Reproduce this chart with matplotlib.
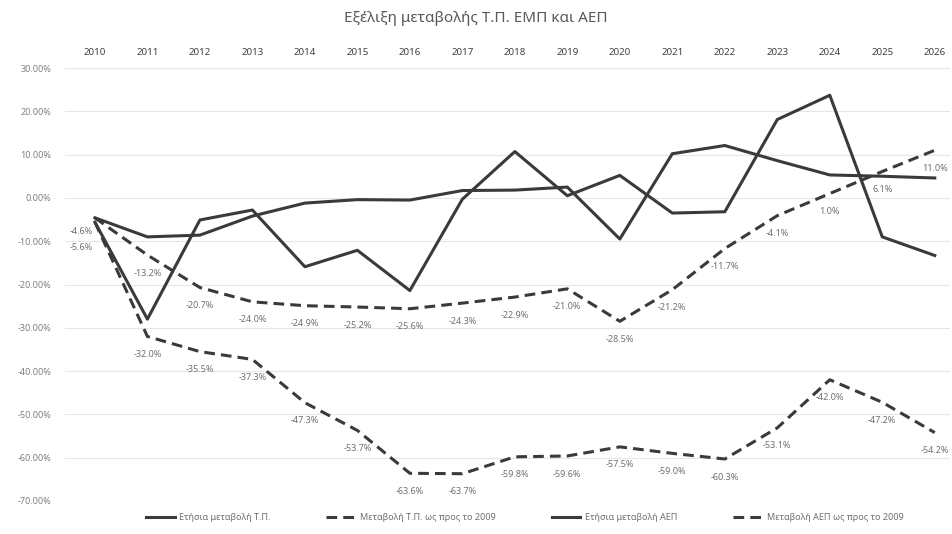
import matplotlib
matplotlib.use("Agg")
import matplotlib.pyplot as plt
from matplotlib.ticker import FuncFormatter

plt.rcParams['font.family'] = ['Noto Sans', 'DejaVu Sans']

years = list(range(2010, 2027))
tp_annual = [-5.6, -28.0, -5.1, -2.8, -15.9, -12.1, -21.4, -0.3, 10.7, 0.5, 5.2, -3.5, -3.2, 18.1, 23.7, -9.0, -13.3]
tp_cum = [-5.6, -32.0, -35.5, -37.3, -47.3, -53.7, -63.6, -63.7, -59.8, -59.6, -57.5, -59.0, -60.3, -53.1, -42.0, -47.2, -54.2]
gdp_annual = [-4.6, -9.0, -8.6, -4.2, -1.2, -0.4, -0.5, 1.7, 1.8, 2.5, -9.5, 10.2, 12.1, 8.6, 5.3, 5.0, 4.6]
gdp_cum = [-4.6, -13.2, -20.7, -24.0, -24.9, -25.2, -25.6, -24.3, -22.9, -21.0, -28.5, -21.2, -11.7, -4.1, 1.0, 6.1, 11.0]

labels = ["Ετήσια μεταβολή Τ.Π.", "Μεταβολή Τ.Π. ως προς το 2009",
          "Ετήσια μεταβολή ΑΕΠ", "Μεταβολή ΑΕΠ ως προς το 2009"]
title = "Εξέλιξη μεταβολής Τ.Π. ΕΜΠ και ΑΕΠ"

W, H = 952, 534
fig = plt.figure(figsize=(W/100, H/100), dpi=100)
ax = fig.add_axes([65/W, 1-501/H, (950-65)/W, (501-68)/H])

lc = '#3a3a3a'
lw = 2.2
ax.plot(years, tp_annual, color=lc, lw=lw, label=labels[0], zorder=3)
ax.plot(years, tp_cum, color=lc, lw=lw, ls=(0, (3.5, 2)), label=labels[1], zorder=3)
ax.plot(years, gdp_annual, color=lc, lw=lw, label=labels[2], zorder=3)
ax.plot(years, gdp_cum, color=lc, lw=lw, ls=(0, (3.5, 2)), label=labels[3], zorder=3)

for k, series in enumerate((tp_cum, gdp_cum)):
    for i, (x, y) in enumerate(zip(years, series)):
        if i == 0:
            dx, dy = -10, (-18 if k == 0 else -10)
        else:
            dx, dy = 0, -13
        ax.annotate(f"{y:.1f}%", (x, y), xytext=(dx, dy), textcoords='offset points',
                    ha='center', va='center', fontsize=6.5, color='#707070', zorder=4)

ax.set_xlim(2009.43, 2026.29)
ax.set_ylim(-70, 30)
ax.set_yticks(range(-70, 31, 10))
ax.yaxis.set_major_formatter(FuncFormatter(lambda v, p: f"{v:.2f}%"))
ax.set_xticks(years)
ax.xaxis.tick_top()
ax.tick_params(axis='x', length=0, pad=8, labelsize=7, labelcolor='#404040')
ax.tick_params(axis='y', length=0, pad=10, labelsize=6.5, labelcolor='#808080')
for t in ax.get_xticklabels():
    t.set_fontweight('bold')
ax.grid(axis='y', color='#e6e6e6', lw=0.8, zorder=0)
for s in ax.spines.values():
    s.set_visible(False)

fig.text(0.5, 1-18/H, title, ha='center', va='center', fontsize=11, color='#595959')

leg = fig.legend(loc='center', bbox_to_anchor=(0.551, 1-518/H), ncol=4, frameon=False,
                 fontsize=6.5, handlelength=3.2, columnspacing=6.2, handletextpad=0.5)
for t in leg.get_texts():
    t.set_color('#707070')

fig.savefig("out.png", dpi=100, facecolor='white')
